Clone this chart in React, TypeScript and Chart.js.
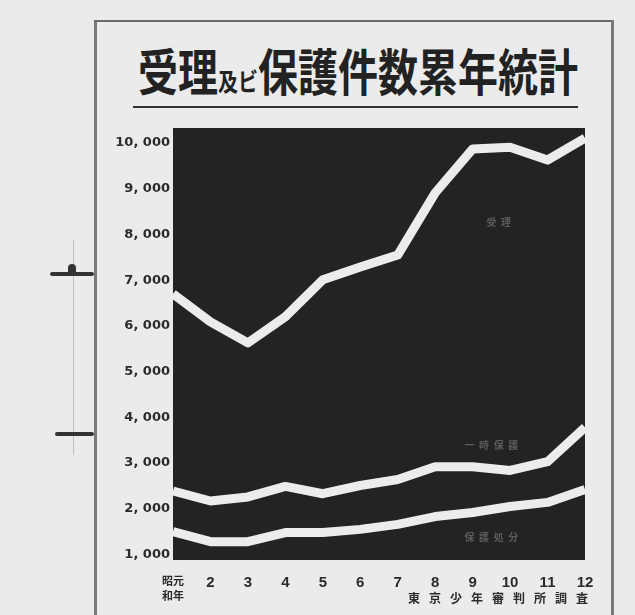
import React, { useEffect, useRef } from "react";
import { Chart, registerables } from "chart.js";

Chart.register(...registerables);

const yearLabels: (string | string[])[] = [["昭元", "和年"], "2", "3", "4", "5", "6", "7", "8", "9", "10", "11", "12"];
const receivedCases = [6700, 6090, 5630, 6200, 7010, 7290, 7550, 8910, 9870, 9910, 9630, 10110];
const middleCases = [2390, 2170, 2260, 2490, 2330, 2510, 2640, 2920, 2920, 2840, 3030, 3780];
const lowerCases = [1500, 1280, 1280, 1480, 1480, 1550, 1660, 1830, 1920, 2050, 2140, 2420];
const yTickValues = [1000, 2000, 3000, 4000, 5000, 6000, 7000, 8000, 9000, 10000];
const yTickLabels = ["1, 000", "2, 000", "3, 000", "4, 000", "5, 000", "6, 000", "7, 000", "8, 000", "9, 000", "10, 000"];
const seriesNames = ["受理", "一時保護", "保護処分"];
const seriesNameSpots = [
  { index: 8.7, value: 8280 },
  { index: 8.5, value: 3400 },
  { index: 8.5, value: 1370 },
];
const titleMain1 = "受理";
const titleSmall = "及ビ";
const titleMain2 = "保護件数累年統計";
const sourceText = "東京少年審判所調査";

const PAPER = "#ebebeb";
const INK = "#2b2b2b";
const PLOT = "#232323";
const LINE = "#ececec";

const App: React.FC = () => {
  const canvasRef = useRef<HTMLCanvasElement | null>(null);

  useEffect(() => {
    if (!canvasRef.current) return;
    const plotBg = {
      id: "plotBg",
      beforeDraw(chart: any) {
        const { ctx, chartArea } = chart;
        ctx.save();
        ctx.fillStyle = PLOT;
        ctx.fillRect(chartArea.left, chartArea.top, chartArea.right - chartArea.left, chartArea.bottom - chartArea.top);
        ctx.restore();
      },
    };
    const innerNames = {
      id: "innerNames",
      afterDatasetsDraw(chart: any) {
        const { ctx } = chart;
        const xs = chart.scales.x;
        const ys = chart.scales.y;
        ctx.save();
        ctx.fillStyle = "#5c5c5c";
        ctx.font = "bold 10px 'Noto Sans CJK JP'";
        ctx.textAlign = "center";
        ctx.textBaseline = "middle";
        seriesNames.forEach((name, i) => {
          const spot = seriesNameSpots[i];
          const i0 = Math.floor(spot.index);
          const p0 = xs.getPixelForValue(i0);
          const p1 = xs.getPixelForValue(i0 + 1);
          const x = p0 + (p1 - p0) * (spot.index - i0);
          const y = ys.getPixelForValue(spot.value);
          const spaced = name.split("").join("  ");
          ctx.fillText(spaced, x, y);
        });
        ctx.restore();
      },
    };

    const mkDs = (data: number[]) => ({
      data,
      borderColor: LINE,
      borderWidth: 9,
      pointRadius: 0,
      tension: 0,
      fill: false,
      borderJoinStyle: "round" as const,
      borderCapStyle: "butt" as const,
    });

    const chart = new Chart(canvasRef.current, {
      type: "line",
      data: {
        labels: yearLabels as any,
        datasets: [mkDs(receivedCases), mkDs(middleCases), mkDs(lowerCases)],
      },
      options: {
        responsive: false,
        animation: false,
        devicePixelRatio: 1,
        layout: { padding: { left: 100, right: 50, top: 128, bottom: 10 } },
        plugins: { legend: { display: false }, tooltip: { enabled: false }, title: { display: false } },
        scales: {
          x: {
            type: "category",
            offset: false,
            grid: { display: false, drawTicks: false },
            border: { display: false },
            afterFit: (s: any) => { s.height = 45; },
            ticks: {
              autoSkip: false,
              maxRotation: 0,
              minRotation: 0,
              padding: 14,
              color: INK,
              font: (c: any) =>
                c.index === 0
                  ? { size: 11, weight: "bold", family: "'Noto Sans CJK JP'", lineHeight: 1.3 }
                  : { size: 15, weight: "bold", family: "'Liberation Sans', Arial, sans-serif" },
            },
          },
          y: {
            min: 880,
            max: 10330,
            grid: { display: false, drawTicks: false },
            border: { display: false },
            afterFit: (s: any) => { s.width = 73; },
            afterBuildTicks: (s: any) => { s.ticks = yTickValues.map((v) => ({ value: v })); },
            ticks: {
              padding: 3,
              color: INK,
              font: { size: 13, weight: "bold", family: "'DejaVu Sans', sans-serif" },
              callback: (v: any) => {
                const i = yTickValues.indexOf(Number(v));
                return i >= 0 ? yTickLabels[i] : "";
              },
            },
          },
        },
      },
      plugins: [plotBg, innerNames],
    });
    return () => chart.destroy();
  }, []);

  return (
    <div style={{ position: "fixed", left: 0, top: 0, width: 635, height: 615, background: PAPER, overflow: "hidden" }}>
      {/* frame */}
      <div style={{ position: "absolute", left: 94, top: 20, width: 3, height: 600, background: "#7a7a7a" }} />
      <div style={{ position: "absolute", left: 94, top: 20, width: 520, height: 2, background: "#6a6a6a" }} />
      <div style={{ position: "absolute", left: 611, top: 20, width: 3, height: 600, background: "#7a7a7a" }} />
      {/* margin marks */}
      <div style={{ position: "absolute", left: 73, top: 240, width: 1, height: 215, background: "#c0c0c0" }} />
      <div style={{ position: "absolute", left: 50, top: 272, width: 44, height: 4, background: "#333", borderRadius: 2 }} />
      <div style={{ position: "absolute", left: 68, top: 264, width: 8, height: 10, background: "#333", borderRadius: "4px 4px 0 0" }} />
      <div style={{ position: "absolute", left: 55, top: 432, width: 39, height: 4, background: "#333", borderRadius: 2 }} />
      {/* title */}
      <div
        style={{
          position: "absolute",
          left: 138,
          top: 44,
          whiteSpace: "nowrap",
          fontFamily: "'Noto Sans CJK JP'",
          fontWeight: 700,
          color: "#222",
          fontSize: 50,
          lineHeight: 1,
          transform: "scaleX(0.8)",
          transformOrigin: "left top",
        }}
      >
        <span>{titleMain1}</span>
        <span style={{ fontSize: 25 }}>{titleSmall}</span>
        <span>{titleMain2}</span>
      </div>
      <div style={{ position: "absolute", left: 133, top: 106, width: 445, height: 2, background: "#333" }} />
      <canvas ref={canvasRef} width={635} height={615} style={{ position: "absolute", left: 0, top: 0, width: 635, height: 615 }} />
      {/* source */}
      <div
        style={{
          position: "absolute",
          left: 408,
          top: 589,
          fontFamily: "'Noto Sans CJK JP'",
          fontWeight: 700,
          fontSize: 12,
          letterSpacing: 9,
          color: INK,
          whiteSpace: "nowrap",
        }}
      >
        {sourceText}
      </div>
    </div>
  );
};

export default App;
